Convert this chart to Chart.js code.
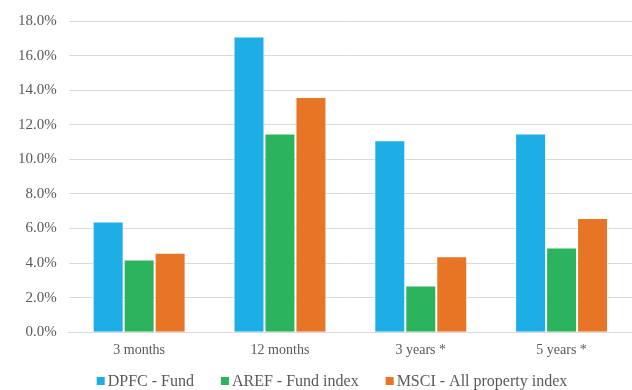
<!DOCTYPE html>
<html>
<head>
<meta charset="utf-8">
<script src="https://cdn.jsdelivr.net/npm/chart.js@4"></script>
<style>
  html, body { margin: 0; padding: 0; background: #ffffff; }
  #wrap { width: 632px; height: 390px; }
</style>
</head>
<body>
<div id="wrap"><canvas id="chart" width="632" height="390"></canvas></div>
<script>
// Periods shown along the horizontal axis
const categories = ['3 months', '12 months', '3 years *', '5 years *'];

// Total returns (%) per period
const dpfcFund  = [6.4, 17.1, 11.1, 11.5];
const arefIndex = [4.2, 11.5, 2.7, 4.9];
const msciIndex = [4.6, 13.6, 4.4, 6.6];

const seriesNames = ['DPFC - Fund', 'AREF - Fund index', 'MSCI - All property index'];
const seriesColors = ['#1CAEE4', '#2BB45D', '#E87426'];

// Value axis range and step (percent)
const yMin = 0, yMax = 18, yStep = 2;

const serif = '"Liberation Serif", "Times New Roman", serif';
const textColor = '#595959';

// Legend row drawn on the canvas below the axis labels
const bottomLegend = {
  id: 'bottomLegend',
  afterDraw(chart) {
    const ctx = chart.ctx;
    const box = 8, gap = 3, itemGap = 27;
    ctx.save();
    ctx.font = '16px ' + serif;
    const widths = chart.data.datasets.map(d => box + gap + ctx.measureText(d.label).width);
    const total = widths.reduce((a, b) => a + b, 0) + itemGap * (widths.length - 1);
    let x = chart.width / 2 + 16 - total / 2;
    const y = 381;
    chart.data.datasets.forEach((d, i) => {
      ctx.fillStyle = d.backgroundColor;
      ctx.fillRect(x, y - box / 2, box, box);
      ctx.fillStyle = textColor;
      ctx.textBaseline = 'middle';
      ctx.textAlign = 'left';
      ctx.fillText(d.label, x + box + gap, y + 1);
      x += widths[i] + itemGap;
    });
    ctx.restore();
  }
};

const seriesValues = [dpfcFund, arefIndex, msciIndex];

new Chart(document.getElementById('chart'), {
  type: 'bar',
  data: {
    labels: categories,
    datasets: seriesValues.map((vals, i) => ({
      label: seriesNames[i],
      data: vals,
      backgroundColor: seriesColors[i],
      borderColor: 'rgba(255,255,255,0.85)',
      borderWidth: 1,
      categoryPercentage: 0.66,
      barPercentage: 1.0
    }))
  },
  options: {
    responsive: false,
    animation: false,
    devicePixelRatio: 1,
    layout: { padding: { left: 6, right: 0, top: 11, bottom: 21 } },
    plugins: {
      legend: { display: false },
      tooltip: { enabled: false }
    },
    scales: {
      x: {
        grid: { display: false, drawTicks: false },
        border: { display: true, color: '#D9D9D9', width: 1 },
        ticks: {
          color: textColor,
          font: { family: serif, size: 14 },
          padding: 10,
          maxRotation: 0
        }
      },
      y: {
        min: yMin,
        max: yMax,
        grid: { color: '#D9D9D9', lineWidth: 1, drawTicks: false },
        border: { display: false },
        ticks: {
          stepSize: yStep,
          color: textColor,
          font: { family: serif, size: 15 },
          padding: 12,
          callback: v => v.toFixed(1) + '%'
        }
      }
    }
  },
  plugins: [bottomLegend]
});
</script>
</body>
</html>
